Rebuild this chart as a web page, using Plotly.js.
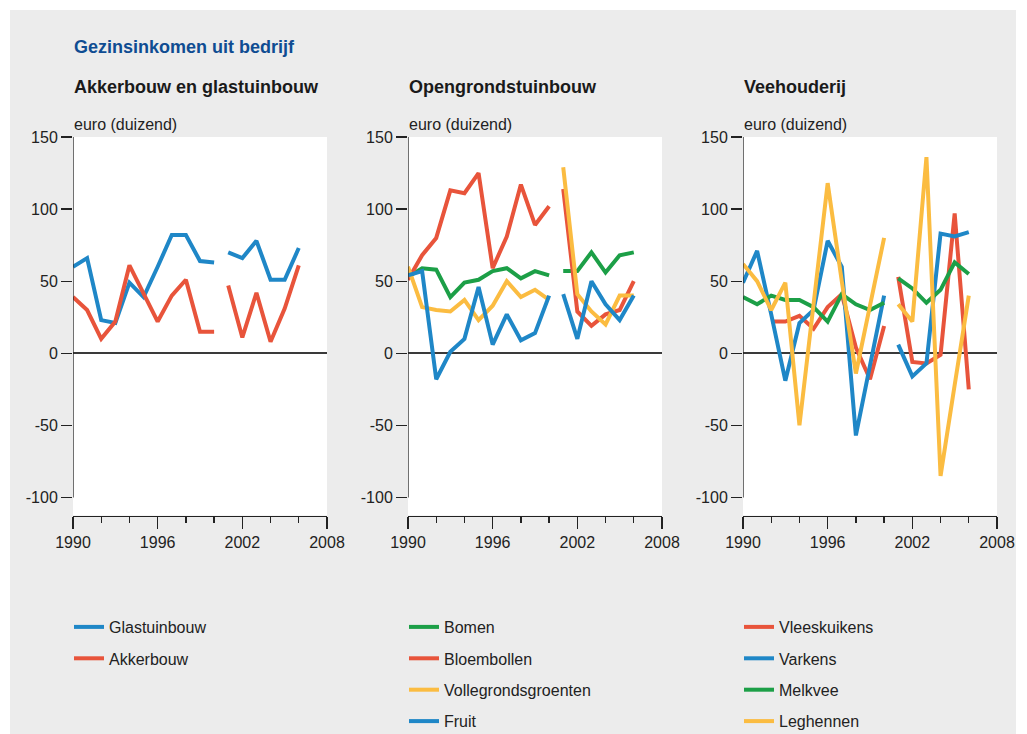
<!DOCTYPE html>
<html>
<head>
<meta charset="utf-8">
<script src="https://cdn.plot.ly/plotly-3.0.1.min.js"></script>
<style>html,body{margin:0;padding:0;background:#fff;overflow:hidden;}#chart{width:1027px;height:734px;}</style>
</head>
<body>
<div id="chart"></div>
<script>
// ---- data (euro, thousands) ----
const years = [1990,1991,1992,1993,1994,1995,1996,1997,1998,1999,2000,null,2001,2002,2003,2004,2005,2006];

// Akkerbouw en glastuinbouw
const glastuinbouw = [60,66,23,21,49,39,60,82,82,64,63,null,70,66,78,51,51,73];
const akkerbouw    = [39,30,10,22,61,41,22,40,51,15,15,null,47,11,42,8,31,61];

// Opengrondstuinbouw
const bomen               = [53,59,58,39,49,51,57,59,52,57,54,null,57,57,70,56,68,70];
const bloembollen         = [51,68,80,113,111,125,59,81,117,89,102,null,114,29,19,27,30,50];
const vollegrondsgroenten = [60,32,30,29,37,23,33,50,39,44,37,null,129,41,29,20,40,40];
const fruit               = [54,57,-18,1,10,46,6,27,9,14,40,null,41,10,50,34,23,40];

// Veehouderij
const vleeskuikens = [null,null,22,22,26,17,32,41,4,-18,19,null,53,-6,-7,-1,97,-25];
const varkens      = [49,71,27,-19,21,30,78,60,-57,-9,40,null,6,-16,-7,83,81,84];
const melkvee      = [39,34,40,37,37,32,22,41,34,30,35,null,52,45,35,44,63,55];
const leghennen    = [62,50,30,49,-50,34,118,50,-14,33,80,null,34,22,136,-85,-22,40];

// ticks
const xTickVals = [1990,1996,2002,2008];
const yTickVals = [-100,-50,0,50,100,150];
const yTickText = ['-100','-50','0','50','100','150'];

const chartTitle = 'Gezinsinkomen uit bedrijf';
const panelTitles = ['Akkerbouw en glastuinbouw','Opengrondstuinbouw','Veehouderij'];
const unitLabel = 'euro (duizend)';

// ---- styling ----
const C = {blue:'#1f87c7', red:'#e8543b', green:'#1c9f47', yellow:'#fbbc41'};
const FONT = 'Liberation Sans, Arial, Helvetica, sans-serif';
const W = 1027, H = 734;
const px = v => v / W;
const py = v => 1 - v / H;

const panels = [
  {ax:'', series:[['Glastuinbouw',glastuinbouw,C.blue],['Akkerbouw',akkerbouw,C.red]], left:73},
  {ax:'2', series:[['Bomen',bomen,C.green],['Bloembollen',bloembollen,C.red],['Vollegrondsgroenten',vollegrondsgroenten,C.yellow],['Fruit',fruit,C.blue]], left:408},
  {ax:'3', series:[['Vleeskuikens',vleeskuikens,C.red],['Varkens',varkens,C.blue],['Melkvee',melkvee,C.green],['Leghennen',leghennen,C.yellow]], left:743}
];
const PW = 254;
const yDomain = [py(515.5), py(137)];
const yRange = [-112.5, 150];
const xRange = [1990, 2008];

const traces = [];
const layout = {
  width: W, height: H,
  margin: {l:0, r:0, t:0, b:0, pad:0, autoexpand:false},
  paper_bgcolor: '#ececec',
  plot_bgcolor: '#ffffff',
  font: {family: FONT, size: 16, color: '#222'},
  showlegend: true,
  shapes: [],
  annotations: []
};

// white frame outside the grey panel
layout.shapes.push(
  {type:'rect', xref:'paper', yref:'paper', x0:0, x1:1, y0:py(10), y1:1, fillcolor:'#fff', line:{width:0}},
  {type:'rect', xref:'paper', yref:'paper', x0:0, x1:px(10), y0:0, y1:1, fillcolor:'#fff', line:{width:0}},
  {type:'rect', xref:'paper', yref:'paper', x0:px(1016), x1:1, y0:0, y1:1, fillcolor:'#fff', line:{width:0}}
);

layout.annotations.push({
  xref:'paper', yref:'paper', x:px(72), y:py(47), xanchor:'left', yanchor:'middle', showarrow:false,
  text:'<b>' + chartTitle + '</b>', font:{family:FONT, size:18, color:'#0f4c92'}
});

panels.forEach((p, i) => {
  const xa = 'x' + p.ax, ya = 'y' + p.ax;
  const legName = 'legend' + p.ax;
  p.series.forEach(([name, vals, color], j) => {
    traces.push({
      type:'scatter', mode:'lines', x: years, y: vals, name: name,
      xaxis: xa, yaxis: ya, legend: legName, legendgroup: 'g' + i + '_' + j,
      connectgaps: false, hoverinfo: 'skip',
      line: {color: color, width: 4}
    });
  });
  layout['xaxis' + p.ax] = {
    domain: [px(p.left), px(p.left + PW)], anchor: ya, range: xRange,
    tickmode:'array', tickvals: xTickVals, ticks:'outside', ticklen: 12, tickwidth: 1.3, tickcolor:'#222',
    showline: true, linecolor:'#222', linewidth: 1.3, showgrid: false, zeroline: false,
    tickfont: {family: FONT, size: 16, color:'#222'},
    minor: {tick0: 1990, dtick: 2, ticks:'outside', ticklen: 6, tickwidth: 1.3, tickcolor:'#222', showgrid: false},
    automargin: false, fixedrange: true
  };
  layout['yaxis' + p.ax] = {
    domain: yDomain, anchor: xa, range: yRange,
    tickmode:'array', tickvals: yTickVals, ticktext: yTickText,
    ticks:'outside', ticklen: 11, tickwidth: 1.3, tickcolor:'#222',
    showline: false, showgrid: false,
    zeroline: true, zerolinecolor:'#3a3a3a', zerolinewidth: 2,
    tickfont: {family: FONT, size: 16, color:'#222'},
    automargin: false, fixedrange: true
  };
  // y axis line from lowest to highest tick
  layout.shapes.push({
    type:'line', xref: xa, yref: ya, x0: xRange[0], x1: xRange[0],
    y0: Math.min(...yTickVals), y1: Math.max(...yTickVals),
    line: {color:'#222', width: 1.3}
  });
  layout.annotations.push({
    xref:'paper', yref:'paper', x:px(p.left - 1), y:py(87), xanchor:'left', yanchor:'middle', showarrow:false,
    text:'<b>' + panelTitles[i] + '</b>', font:{family:FONT, size:18, color:'#1a1a1a'}
  });
  layout.annotations.push({
    xref:'paper', yref:'paper', x:px(p.left - 1), y:py(124), xanchor:'left', yanchor:'middle', showarrow:false,
    text: unitLabel, font:{family:FONT, size:16, color:'#222'}
  });
  layout[legName] = {
    x: px(p.left - 4), y: py(610), xanchor:'left', yanchor:'top',
    bgcolor:'rgba(0,0,0,0)', borderwidth: 0,
    font: {family: FONT, size: 16, color:'#222'},
    tracegroupgap: 7.6, itemclick: false, itemdoubleclick: false
  };
});

Plotly.newPlot('chart', traces, layout, {staticPlot: true, displayModeBar: false});
</script>
</body>
</html>
